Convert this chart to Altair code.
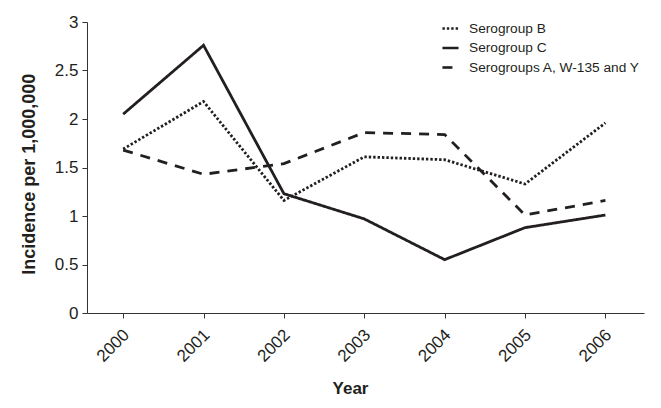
import altair as alt
import pandas as pd

years = [2000, 2001, 2002, 2003, 2004, 2005, 2006]
groups = ["Serogroup B", "Serogroup C", "Serogroups A, W-135 and Y"]
serogroup_b = [1.69, 2.18, 1.16, 1.61, 1.58, 1.33, 1.96]
serogroup_c = [2.05, 2.76, 1.23, 0.97, 0.55, 0.88, 1.01]
serogroup_awy = [1.68, 1.43, 1.54, 1.86, 1.84, 1.01, 1.16]

rows = []
for g, vals in zip(groups, [serogroup_b, serogroup_c, serogroup_awy]):
    for y, v in zip(years, vals):
        rows.append({"Year": y, "Incidence": v, "Group": g})
df = pd.DataFrame(rows)

FONT = "Liberation Sans"
INK = "#231f20"

chart = alt.Chart(df).mark_line(strokeWidth=2.8, color=INK, strokeCap="butt", strokeJoin="miter").encode(
    x=alt.X("Year:Q",
            scale=alt.Scale(domain=[1999.55, 2006.48], nice=False, zero=False),
            axis=alt.Axis(values=years, format="d", labelAngle=315, grid=False,
                          title="Year", titleFontSize=17, titleFontWeight="bold",
                          titleAlign="center", titleBaseline="alphabetic",
                          titleX=263, titleY=80,
                          labelFontSize=17, labelAlign="right",
                          labelBaseline="middle", labelPadding=14, labelOffset=3, tickSize=5,
                          domainColor="#333", tickColor="#333", labelColor=INK,
                          titleColor=INK, labelFont=FONT, titleFont=FONT)),
    y=alt.Y("Incidence:Q",
            scale=alt.Scale(domain=[0, 3], nice=False),
            axis=alt.Axis(values=[0, 0.5, 1, 1.5, 2, 2.5, 3], format="~g", grid=False,
                          title="Incidence per 1,000,000", titleFontSize=18,
                          titleFontWeight="bold", titleAlign="center",
                          titleBaseline="alphabetic", titleAngle=270,
                          titleX=-52.7, titleY=151.7, labelFontSize=17,
                          labelPadding=4, tickSize=5, domainColor="#333", tickColor="#333",
                          labelColor=INK, titleColor=INK, labelFont=FONT, titleFont=FONT)),
    strokeDash=alt.StrokeDash("Group:N",
                              scale=alt.Scale(domain=groups, range=[[2.4, 2.0], [1, 0], [10, 8]]),
                              legend=alt.Legend(title=None, orient="none", legendX=354, legendY=-3,
                                                symbolType="stroke", symbolStrokeWidth=2.6,
                                                symbolStrokeColor=INK, symbolSize=260,
                                                labelFontSize=13.7, labelFont=FONT, labelColor=INK,
                                                labelOffset=9, rowPadding=2.5, labelLimit=0)),
    detail="Group:N",
).properties(
    width=557, height=291,
    autosize=alt.AutoSizeParams(type="none"),
    padding={"left": 79, "top": 14, "right": 9, "bottom": 87},
).configure_view(stroke=None)

chart.save("out.html", embed_options={"renderer": "svg", "actions": False})
